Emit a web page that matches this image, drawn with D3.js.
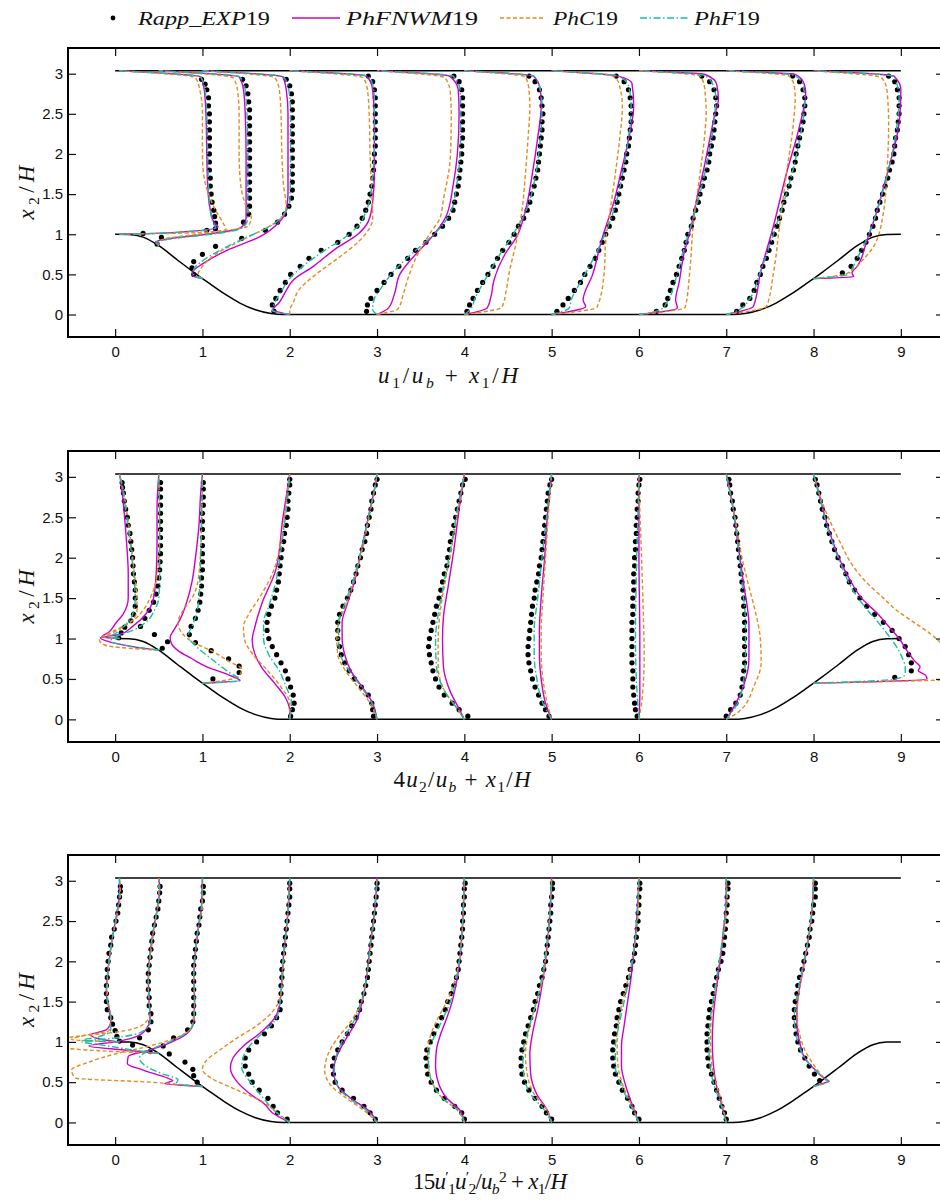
<!DOCTYPE html>
<html>
<head>
<meta charset="utf-8">
<script src="https://cdn.jsdelivr.net/npm/d3@7"></script>
<style>
body { margin: 0; background: #fff; }
svg { display: block; }
.tick text { font-family: "Liberation Sans", Arial, sans-serif; font-size: 15px; fill: #111; }
.tick line { stroke: #111; stroke-width: 1.2; }
.math { font-family: "Liberation Serif", "Times New Roman", serif; fill: #111; white-space: pre; }
</style>
</head>
<body>
<div id="chart"></div>
<script>
// DATA
const stations = [0.05, 0.5, 1, 2, 3, 4, 5, 6, 7, 8];
const channelTop = 3.036;
const hillX = [0, 0.161, 0.321, 0.5, 0.714, 0.893, 1.071, 1.25, 1.429, 1.607, 1.786, 1.929,
    7.071, 7.214, 7.393, 7.571, 7.75, 7.929, 8.107, 8.286, 8.5, 8.679, 8.839, 9];
const hillY = [1, 0.998, 0.964, 0.857, 0.679, 0.532, 0.393, 0.259, 0.143, 0.059, 0.012, 0,
    0, 0.012, 0.059, 0.143, 0.259, 0.393, 0.532, 0.679, 0.857, 0.964, 0.998, 1];
const xTicks = [0, 1, 2, 3, 4, 5, 6, 7, 8, 9];
const yTicks = [0, 0.5, 1, 1.5, 2, 2.5, 3];

// experiment heights for each station
const expYa = [1.01,1.07,1.14,1.22,1.3,1.4,1.5,1.6,1.7,1.8,1.9,2.0,2.1,2.2,2.3,2.4,2.5,2.6,2.7,2.8,2.87,2.93];
const expYb = [0.88,0.96,1.05,1.15,1.25,1.35,1.45,1.55,1.65,1.75,1.85,1.95,2.05,2.15,2.25,2.35,2.45,2.55,2.65,2.75,2.85,2.93];
const expYc = [0.5,0.58,0.66,0.75,0.85,0.95,1.05,1.15,1.25,1.35,1.45,1.55,1.65,1.75,1.85,1.95,2.05,2.15,2.25,2.35,2.45,2.55,2.65,2.75,2.85,2.93];
const expYf = [0.04,0.12,0.2,0.3,0.4,0.5,0.6,0.7,0.8,0.9,1.0,1.1,1.2,1.3,1.4,1.5,1.6,1.7,1.8,1.9,2.0,2.1,2.2,2.3,2.4,2.5,2.6,2.7,2.8,2.9,2.97];
const expYg = [0.52,0.6,0.7,0.8,0.9,1.0,1.1,1.2,1.3,1.4,1.5,1.6,1.7,1.8,1.9,2.0,2.1,2.2,2.3,2.4,2.5,2.6,2.7,2.8,2.9,2.97];
const expY = [expYa, expYb, expYc, expYf, expYf, expYf, expYf, expYf, expYf, expYg];

// panel 1: u1/ub
const u1Exp = [
    [0.27,1.1,1.1,1.09,1.08,1.06,1.05,1.04,1.04,1.03,1.03,1.03,1.03,1.03,1.03,1.03,1.03,1.02,1.02,1.0,0.98,0.94],
    [-0.02,0.03,0.55,0.97,1.03,1.04,1.04,1.04,1.04,1.04,1.04,1.04,1.04,1.04,1.04,1.04,1.04,1.04,1.03,1.02,1.0,0.96],
    [-0.1,-0.12,-0.1,0.0,0.15,0.45,0.72,0.86,0.94,0.99,1.02,1.03,1.03,1.03,1.03,1.03,1.03,1.03,1.03,1.03,1.03,1.03,1.03,1.02,1.0,0.96],
    [-0.18,-0.2,-0.16,-0.11,-0.05,0.01,0.12,0.22,0.36,0.55,0.68,0.77,0.83,0.87,0.9,0.92,0.94,0.95,0.96,0.97,0.97,0.98,0.98,0.98,0.98,0.98,0.98,0.98,0.97,0.95,0.9],
    [-0.12,-0.11,-0.07,0.0,0.08,0.16,0.25,0.35,0.44,0.56,0.66,0.75,0.82,0.87,0.89,0.91,0.93,0.94,0.95,0.96,0.97,0.97,0.98,0.98,0.98,0.98,0.98,0.98,0.97,0.94,0.88],
    [0.03,0.06,0.1,0.15,0.21,0.27,0.33,0.38,0.44,0.51,0.57,0.62,0.68,0.72,0.75,0.77,0.8,0.82,0.84,0.85,0.86,0.87,0.88,0.89,0.89,0.9,0.89,0.88,0.86,0.81,0.74],
    [0.06,0.13,0.19,0.26,0.33,0.38,0.44,0.5,0.54,0.58,0.62,0.66,0.7,0.73,0.75,0.77,0.79,0.81,0.83,0.85,0.86,0.88,0.89,0.9,0.91,0.91,0.91,0.9,0.88,0.83,0.74],
    [0.2,0.3,0.33,0.36,0.39,0.43,0.46,0.49,0.52,0.54,0.56,0.6,0.62,0.65,0.68,0.7,0.73,0.75,0.78,0.8,0.81,0.83,0.85,0.86,0.87,0.88,0.89,0.88,0.86,0.81,0.72],
    [0.12,0.19,0.27,0.32,0.35,0.39,0.42,0.46,0.49,0.52,0.55,0.58,0.61,0.64,0.66,0.69,0.72,0.74,0.77,0.79,0.8,0.82,0.84,0.86,0.88,0.89,0.9,0.9,0.88,0.84,0.76],
    [0.33,0.43,0.5,0.55,0.6,0.64,0.68,0.71,0.73,0.76,0.79,0.82,0.85,0.87,0.9,0.92,0.93,0.94,0.96,0.97,0.98,0.98,0.98,0.96,0.93,0.86]
];
const u1NWM = [
    [[1.0,0],[1.02,0.6],[1.09,1.13],[1.15,1.08],[1.3,1.04],[1.6,1.01],[2.0,1.0],[2.5,0.99],[2.8,0.97],[2.96,0.93],[3.036,0]],
    [[0.857,0],[0.9,-0.04],[0.95,0.15],[1.0,0.55],[1.05,0.85],[1.1,0.96],[1.2,1.0],[1.5,1.0],[2.0,1.0],[2.5,0.99],[2.8,0.97],[2.96,0.92],[3.036,0]],
    [[0.447,0],[0.49,-0.12],[0.55,-0.1],[0.63,0.0],[0.8,0.28],[0.97,0.66],[1.14,0.87],[1.3,0.96],[1.5,0.98],[2.0,0.98],[2.5,0.98],[2.8,0.96],[2.96,0.92],[3.036,0]],
    [[0,0],[0.06,-0.19],[0.15,-0.12],[0.3,-0.04],[0.43,0.04],[0.6,0.27],[0.83,0.54],[1.0,0.78],[1.16,0.9],[1.4,0.95],[1.8,0.97],[2.4,0.97],[2.8,0.95],[2.97,0.88],[3.036,0]],
    [[0,0],[0.08,0.13],[0.26,0.2],[0.5,0.26],[0.77,0.46],[0.93,0.6],[1.22,0.79],[1.6,0.87],[2.0,0.92],[2.5,0.94],[2.8,0.93],[2.97,0.83],[3.036,0]],
    [[0,0],[0.08,0.26],[0.2,0.3],[0.43,0.34],[0.76,0.47],[0.97,0.6],[1.3,0.7],[1.76,0.78],[2.2,0.84],[2.59,0.88],[2.8,0.87],[2.97,0.79],[3.036,0]],
    [[0,0],[0.1,0.39],[0.18,0.36],[0.5,0.47],[0.92,0.57],[1.43,0.72],[1.8,0.8],[2.18,0.88],[2.6,0.94],[2.88,0.92],[2.97,0.76],[3.036,0]],
    [[0,0],[0.08,0.44],[0.18,0.42],[0.4,0.46],[0.73,0.51],[1.1,0.6],[1.43,0.66],[1.8,0.74],[2.18,0.81],[2.5,0.87],[2.68,0.91],[2.87,0.89],[2.99,0.76],[3.036,0]],
    [[0,0],[0.1,0.31],[0.51,0.39],[1.1,0.54],[1.76,0.69],[2.35,0.84],[2.76,0.91],[2.88,0.89],[2.99,0.79],[3.036,0]],
    [[0.447,0],[0.47,0.46],[0.52,0.44],[0.6,0.5],[0.92,0.61],[1.2,0.7],[1.58,0.8],[1.9,0.88],[2.25,0.96],[2.5,0.99],[2.8,1.0],[2.97,0.92],[3.036,0]]
];
const u1C = [
    [[1.0,0],[1.02,0.9],[1.06,1.22],[1.15,1.18],[1.3,1.1],[1.5,1.02],[1.7,0.97],[2.0,0.95],[2.5,0.95],[2.8,0.92],[2.95,0.87],[3.036,0]],
    [[0.857,0],[0.9,-0.01],[0.95,0.1],[1.0,0.45],[1.05,0.8],[1.1,1.02],[1.2,1.06],[1.35,1.0],[1.6,0.94],[2.0,0.92],[2.5,0.92],[2.8,0.9],[2.95,0.85],[3.036,0]],
    [[0.447,0],[0.5,-0.05],[0.6,0.0],[0.75,0.15],[0.9,0.4],[1.05,0.68],[1.2,0.9],[1.35,0.96],[1.6,0.93],[2.0,0.91],[2.5,0.9],[2.8,0.88],[2.95,0.83],[3.036,0]],
    [[0,0],[0.05,0.0],[0.15,0.04],[0.3,0.1],[0.5,0.3],[0.7,0.55],[0.9,0.78],[1.05,0.9],[1.2,0.95],[1.5,0.94],[2.0,0.92],[2.5,0.91],[2.8,0.89],[2.95,0.84],[3.036,0]],
    [[0,0],[0.07,0.24],[0.25,0.3],[0.47,0.36],[0.76,0.47],[1.0,0.6],[1.2,0.72],[1.43,0.76],[1.97,0.84],[2.5,0.85],[2.76,0.84],[2.95,0.78],[3.036,0]],
    [[0,0],[0.09,0.43],[0.3,0.48],[0.5,0.51],[0.93,0.6],[1.3,0.66],[1.76,0.7],[2.2,0.73],[2.59,0.75],[2.8,0.74],[2.96,0.7],[3.036,0]],
    [[0,0],[0.09,0.52],[0.5,0.6],[0.92,0.62],[1.3,0.67],[1.76,0.73],[2.2,0.78],[2.59,0.81],[2.88,0.77],[2.97,0.7],[3.036,0]],
    [[0,0],[0.09,0.53],[0.51,0.58],[1.1,0.62],[1.76,0.7],[2.2,0.75],[2.51,0.77],[2.84,0.75],[2.97,0.7],[3.036,0]],
    [[0,0],[0.1,0.46],[0.51,0.54],[1.1,0.61],[1.76,0.69],[2.39,0.77],[2.7,0.79],[2.84,0.78],[2.97,0.72],[3.036,0]],
    [[0.447,0],[0.5,0.35],[0.554,0.44],[0.7,0.58],[0.85,0.69],[1.27,0.8],[1.76,0.84],[2.39,0.86],[2.8,0.84],[2.95,0.78],[3.036,0]]
];
const u1F = [
    [[1.0,0],[1.02,0.65],[1.08,1.1],[1.15,1.07],[1.3,1.04],[1.6,1.02],[2.0,1.01],[2.5,1.0],[2.8,0.98],[2.96,0.93],[3.036,0]],
    [[0.857,0],[0.9,-0.03],[0.95,0.2],[1.0,0.6],[1.05,0.88],[1.1,0.98],[1.2,1.02],[1.5,1.02],[2.0,1.02],[2.5,1.01],[2.8,0.99],[2.96,0.93],[3.036,0]],
    [[0.447,0],[0.49,-0.1],[0.56,-0.1],[0.65,-0.02],[0.8,0.2],[0.95,0.48],[1.1,0.78],[1.25,0.93],[1.4,1.0],[2.0,1.01],[2.5,1.01],[2.8,0.99],[2.96,0.93],[3.036,0]],
    [[0,0],[0.05,-0.2],[0.15,-0.17],[0.3,-0.09],[0.45,0.0],[0.6,0.15],[0.8,0.4],[0.95,0.62],[1.1,0.78],[1.3,0.88],[1.6,0.94],[2.2,0.97],[2.7,0.97],[2.9,0.94],[2.97,0.89],[3.036,0]],
    [[0,0],[0.06,-0.05],[0.2,-0.03],[0.35,0.06],[0.5,0.16],[0.7,0.34],[0.9,0.55],[1.1,0.74],[1.3,0.85],[1.6,0.91],[2.0,0.95],[2.5,0.96],[2.8,0.95],[2.97,0.87],[3.036,0]],
    [[0,0],[0.08,0.08],[0.2,0.12],[0.4,0.22],[0.7,0.38],[1.0,0.56],[1.3,0.71],[1.7,0.81],[2.2,0.87],[2.6,0.89],[2.8,0.87],[2.97,0.8],[3.036,0]],
    [[0,0],[0.08,0.2],[0.2,0.23],[0.4,0.33],[0.7,0.48],[1.0,0.61],[1.4,0.74],[1.8,0.82],[2.2,0.88],[2.6,0.91],[2.85,0.88],[2.97,0.76],[3.036,0]],
    [[0,0],[0.06,0.25],[0.15,0.32],[0.4,0.41],[0.8,0.51],[1.2,0.62],[1.6,0.72],[2.0,0.8],[2.4,0.86],[2.7,0.88],[2.88,0.84],[2.98,0.74],[3.036,0]],
    [[0,0],[0.06,0.15],[0.2,0.27],[0.5,0.38],[1.1,0.57],[1.7,0.74],[2.3,0.86],[2.65,0.9],[2.85,0.88],[2.98,0.78],[3.036,0]],
    [[0.447,0],[0.5,0.4],[0.55,0.43],[0.7,0.5],[0.92,0.6],[1.2,0.7],[1.6,0.81],[2.0,0.9],[2.4,0.96],[2.7,0.98],[2.85,0.96],[2.97,0.9],[3.036,0]]
];

// panel 2: 4 u2/ub
const u2Exp = [
    [-0.01,0.02,0.06,0.13,0.16,0.18,0.18,0.18,0.17,0.16,0.155,0.15,0.14,0.13,0.12,0.1,0.09,0.07,0.055,0.045,0.035,0.03],
    [0.04,0.1,-0.05,-0.21,-0.16,-0.11,-0.06,-0.03,-0.01,0.0,0.01,0.015,0.02,0.02,0.02,0.02,0.02,0.02,0.02,0.02,0.02,0.02],
    [0.12,0.42,0.42,0.3,0.1,-0.08,-0.15,-0.13,-0.08,-0.05,-0.03,-0.02,-0.01,-0.01,0.0,0.0,0.0,0.0,0.0,0.0,0.0,0.0,0.01,0.01,0.01,0.01],
    [0.01,0.03,0.05,0.04,0.01,-0.02,-0.05,-0.1,-0.15,-0.2,-0.24,-0.26,-0.26,-0.24,-0.21,-0.17,-0.15,-0.13,-0.12,-0.11,-0.1,-0.09,-0.07,-0.06,-0.04,-0.03,-0.02,-0.02,-0.01,0.0,0.0],
    [-0.04,-0.05,-0.06,-0.1,-0.18,-0.26,-0.32,-0.37,-0.41,-0.43,-0.45,-0.45,-0.45,-0.43,-0.39,-0.34,-0.3,-0.27,-0.24,-0.22,-0.19,-0.17,-0.14,-0.12,-0.11,-0.09,-0.07,-0.06,-0.04,-0.02,0.0],
    [0.04,-0.06,-0.14,-0.23,-0.29,-0.33,-0.36,-0.38,-0.4,-0.41,-0.4,-0.38,-0.36,-0.34,-0.32,-0.29,-0.27,-0.25,-0.23,-0.2,-0.19,-0.17,-0.16,-0.14,-0.12,-0.1,-0.08,-0.06,-0.04,-0.02,0.01],
    [-0.03,-0.07,-0.11,-0.15,-0.19,-0.22,-0.24,-0.26,-0.27,-0.27,-0.26,-0.25,-0.24,-0.23,-0.22,-0.2,-0.19,-0.17,-0.15,-0.14,-0.12,-0.11,-0.1,-0.09,-0.08,-0.07,-0.06,-0.05,-0.04,-0.02,0.0],
    [-0.02,-0.04,-0.05,-0.06,-0.07,-0.07,-0.07,-0.08,-0.08,-0.08,-0.08,-0.08,-0.08,-0.07,-0.07,-0.07,-0.06,-0.06,-0.06,-0.05,-0.05,-0.04,-0.04,-0.03,-0.03,-0.02,-0.02,-0.01,-0.01,0.0,0.01],
    [0.0,0.05,0.11,0.16,0.18,0.19,0.2,0.21,0.21,0.21,0.21,0.21,0.21,0.21,0.2,0.2,0.19,0.18,0.17,0.16,0.15,0.14,0.13,0.12,0.11,0.1,0.08,0.07,0.05,0.04,0.03],
    [0.93,1.12,1.12,1.09,1.05,0.98,0.9,0.8,0.7,0.61,0.53,0.47,0.41,0.37,0.33,0.28,0.24,0.21,0.18,0.15,0.13,0.1,0.08,0.06,0.04,0.02]
];
const u2NWM = [
    [[1.0,0],[1.02,-0.2],[1.08,-0.12],[1.18,-0.05],[1.3,0.04],[1.5,0.1],[1.8,0.1],[2.2,0.08],[2.6,0.05],[2.9,0.02],[3.036,0]],
    [[0.857,0],[0.9,-0.3],[0.97,-0.6],[1.01,-0.67],[1.05,-0.45],[1.15,-0.3],[1.3,-0.15],[1.5,-0.06],[1.8,-0.03],[2.2,-0.02],[2.6,-0.02],[3.036,0]],
    [[0.447,0],[0.48,0.43],[0.55,0.3],[0.65,0.05],[0.75,-0.12],[0.85,-0.28],[0.95,-0.36],[1.02,-0.37],[1.1,-0.33],[1.25,-0.25],[1.45,-0.18],[1.7,-0.12],[2.0,-0.08],[2.4,-0.04],[2.8,-0.02],[3.036,0]],
    [[0,0],[0.1,0.0],[0.27,-0.05],[0.43,-0.16],[0.64,-0.32],[0.81,-0.4],[0.98,-0.43],[1.14,-0.4],[1.43,-0.32],[1.85,-0.16],[2.48,-0.08],[3.036,0]],
    [[0,0],[0.2,-0.05],[0.4,-0.17],[0.6,-0.3],[0.8,-0.37],[1.0,-0.4],[1.2,-0.4],[1.4,-0.35],[1.7,-0.26],[2.1,-0.18],[2.5,-0.1],[2.9,-0.02],[3.036,0]],
    [[0,0],[0.13,-0.06],[0.34,-0.16],[0.66,-0.24],[1.0,-0.25],[1.26,-0.24],[1.68,-0.18],[2.1,-0.12],[2.6,-0.06],[3.036,0]],
    [[0,0],[0.2,-0.07],[0.5,-0.12],[0.8,-0.14],[1.1,-0.14],[1.5,-0.12],[2.0,-0.08],[2.5,-0.05],[3.036,0]],
    [[0,0],[0.3,0.01],[1.0,0.01],[2.0,0.0],[3.036,0]],
    [[0,0],[0.18,0.1],[0.42,0.2],[0.75,0.26],[1.17,0.26],[1.67,0.2],[2.2,0.13],[2.6,0.08],[3.036,0]],
    [[0.447,0],[0.5,1.3],[0.55,1.28],[0.6,1.2],[0.65,1.22],[0.72,1.16],[0.85,1.07],[1.0,0.98],[1.15,0.86],[1.3,0.74],[1.5,0.55],[1.7,0.43],[2.0,0.29],[2.4,0.16],[2.8,0.06],[3.036,0]]
];
const u2C = [
    [[1.0,0],[1.02,-0.18],[1.06,-0.1],[1.12,0.0],[1.2,0.12],[1.35,0.2],[1.5,0.2],[1.8,0.17],[2.2,0.13],[2.6,0.08],[2.9,0.03],[3.036,0]],
    [[0.857,0],[0.88,-0.35],[0.92,-0.62],[0.98,-0.68],[1.05,-0.6],[1.13,-0.45],[1.22,-0.3],[1.35,-0.18],[1.5,-0.1],[1.78,-0.02],[2.3,0.01],[3.036,0]],
    [[0.447,0],[0.52,0.4],[0.62,0.45],[0.72,0.3],[0.85,0.1],[0.95,-0.1],[1.05,-0.22],[1.2,-0.28],[1.35,-0.22],[1.5,-0.12],[1.8,-0.04],[2.4,-0.01],[3.036,0]],
    [[0,0],[0.2,0.0],[0.4,-0.1],[0.6,-0.25],[0.8,-0.42],[1.0,-0.52],[1.15,-0.53],[1.3,-0.47],[1.5,-0.35],[1.8,-0.2],[2.2,-0.1],[2.6,-0.05],[2.95,-0.01],[3.036,0]],
    [[0,0],[0.2,-0.08],[0.4,-0.22],[0.6,-0.36],[0.8,-0.45],[1.0,-0.46],[1.2,-0.44],[1.4,-0.36],[1.7,-0.27],[2.1,-0.17],[2.5,-0.09],[2.9,-0.02],[3.036,0]],
    [[0,0],[0.13,-0.08],[0.34,-0.22],[0.66,-0.3],[1.0,-0.3],[1.3,-0.28],[1.7,-0.22],[2.1,-0.15],[2.6,-0.07],[3.036,0]],
    [[0,0],[0.2,-0.05],[0.5,-0.1],[0.8,-0.12],[1.1,-0.12],[1.5,-0.1],[2.0,-0.07],[2.5,-0.04],[3.036,0]],
    [[0,0],[0.3,0.04],[0.8,0.06],[1.3,0.05],[2.0,0.03],[2.6,0.01],[3.036,0]],
    [[0,0],[0.1,0.15],[0.42,0.32],[0.7,0.4],[1.0,0.39],[1.3,0.34],[1.6,0.27],[2.0,0.18],[2.5,0.1],[3.036,0]],
    [[0.447,0],[0.5,1.6],[0.6,1.7],[0.75,1.65],[0.9,1.5],[1.05,1.35],[1.2,1.15],[1.35,0.95],[1.5,0.8],[1.7,0.6],[1.9,0.45],[2.2,0.3],[2.6,0.13],[3.036,0]]
];
const u2F = [
    [[1.0,0],[1.02,-0.12],[1.06,-0.05],[1.15,0.05],[1.3,0.15],[1.5,0.18],[1.8,0.16],[2.2,0.12],[2.6,0.07],[2.9,0.03],[3.036,0]],
    [[0.857,0],[0.9,-0.3],[0.97,-0.55],[1.02,-0.5],[1.1,-0.3],[1.2,-0.15],[1.35,-0.05],[1.5,0.0],[1.8,0.01],[2.4,0.01],[3.036,0]],
    [[0.447,0],[0.48,0.43],[0.6,0.28],[0.75,0.1],[0.88,-0.05],[0.98,-0.14],[1.05,-0.16],[1.15,-0.12],[1.3,-0.07],[1.5,-0.04],[2.0,-0.02],[2.5,-0.01],[3.036,0]],
    [[0,0],[0.2,0.02],[0.4,-0.04],[0.6,-0.12],[0.8,-0.24],[1.0,-0.3],[1.2,-0.3],[1.4,-0.24],[1.7,-0.16],[2.1,-0.1],[2.5,-0.05],[2.9,-0.01],[3.036,0]],
    [[0,0],[0.2,-0.06],[0.4,-0.18],[0.6,-0.32],[0.8,-0.42],[1.0,-0.44],[1.2,-0.44],[1.4,-0.38],[1.7,-0.28],[2.1,-0.18],[2.5,-0.1],[2.9,-0.02],[3.036,0]],
    [[0,0],[0.13,-0.08],[0.34,-0.22],[0.66,-0.32],[1.0,-0.33],[1.3,-0.3],[1.7,-0.23],[2.1,-0.16],[2.6,-0.08],[3.036,0]],
    [[0,0],[0.2,-0.1],[0.5,-0.17],[0.8,-0.2],[1.1,-0.2],[1.5,-0.16],[2.0,-0.11],[2.5,-0.06],[3.036,0]],
    [[0,0],[0.3,-0.02],[1.0,-0.04],[1.8,-0.03],[2.6,-0.01],[3.036,0]],
    [[0,0],[0.18,0.12],[0.42,0.19],[0.8,0.22],[1.2,0.22],[1.6,0.19],[2.1,0.14],[2.6,0.08],[3.036,0]],
    [[0.447,0],[0.5,0.95],[0.56,1.05],[0.65,1.05],[0.75,1.02],[0.9,0.95],[1.05,0.85],[1.2,0.74],[1.4,0.58],[1.6,0.45],[1.9,0.32],[2.3,0.18],[2.7,0.08],[3.036,0]]
];

// panel 3: 15 u1'u2'/ub^2
const uvExp = [
    [0.0,-0.03,-0.05,-0.08,-0.1,-0.14,-0.15,-0.15,-0.15,-0.14,-0.14,-0.13,-0.12,-0.1,-0.09,-0.06,-0.04,-0.02,-0.01,0.0,0.01,0.01],
    [-0.1,-0.3,-0.22,-0.12,-0.09,-0.09,-0.11,-0.11,-0.12,-0.12,-0.12,-0.11,-0.1,-0.09,-0.08,-0.07,-0.05,-0.03,-0.01,0.0,0.01,0.015],
    [-0.06,-0.1,-0.11,-0.2,-0.38,-0.45,-0.33,-0.17,-0.11,-0.1,-0.1,-0.1,-0.1,-0.1,-0.1,-0.1,-0.09,-0.08,-0.07,-0.06,-0.04,-0.03,-0.02,0.0,0.01,0.01],
    [-0.03,-0.14,-0.19,-0.25,-0.35,-0.43,-0.47,-0.51,-0.51,-0.47,-0.38,-0.29,-0.21,-0.15,-0.11,-0.11,-0.1,-0.1,-0.09,-0.09,-0.08,-0.07,-0.06,-0.05,-0.04,-0.03,-0.02,-0.01,0.0,0.0,0.0],
    [-0.02,-0.08,-0.15,-0.27,-0.4,-0.48,-0.5,-0.51,-0.49,-0.45,-0.4,-0.34,-0.29,-0.24,-0.2,-0.18,-0.15,-0.13,-0.11,-0.1,-0.09,-0.08,-0.07,-0.06,-0.05,-0.04,-0.03,-0.02,-0.01,0.0,0.0],
    [0.0,-0.03,-0.11,-0.23,-0.32,-0.38,-0.42,-0.43,-0.44,-0.43,-0.39,-0.35,-0.31,-0.26,-0.22,-0.19,-0.15,-0.12,-0.09,-0.07,-0.06,-0.05,-0.04,-0.03,-0.02,-0.02,-0.01,-0.01,0.0,0.0,0.01],
    [0.0,-0.06,-0.11,-0.19,-0.26,-0.31,-0.34,-0.35,-0.35,-0.34,-0.32,-0.3,-0.27,-0.24,-0.21,-0.19,-0.16,-0.14,-0.11,-0.09,-0.07,-0.06,-0.05,-0.04,-0.03,-0.02,-0.01,-0.01,0.0,0.01,0.01],
    [0.0,-0.05,-0.08,-0.13,-0.19,-0.23,-0.27,-0.29,-0.3,-0.3,-0.29,-0.28,-0.26,-0.25,-0.23,-0.21,-0.18,-0.15,-0.12,-0.1,-0.07,-0.05,-0.04,-0.03,-0.02,-0.01,-0.01,0.0,0.0,0.01,0.01],
    [0.0,-0.02,-0.05,-0.08,-0.11,-0.14,-0.17,-0.2,-0.21,-0.22,-0.22,-0.22,-0.21,-0.2,-0.19,-0.17,-0.15,-0.13,-0.11,-0.09,-0.06,-0.04,-0.03,-0.02,-0.01,0.0,0.0,0.01,0.01,0.02,0.02],
    [0.07,0.01,-0.05,-0.1,-0.15,-0.18,-0.2,-0.21,-0.22,-0.22,-0.21,-0.19,-0.18,-0.16,-0.13,-0.11,-0.09,-0.07,-0.05,-0.04,-0.02,-0.01,0.0,0.02,0.02,0.02]
];
const uvNWM = [
    [[1.0,0],[1.03,-0.2],[1.09,-0.33],[1.15,-0.15],[1.25,-0.1],[1.4,-0.12],[1.6,-0.15],[1.8,-0.14],[2.0,-0.12],[2.3,-0.08],[2.6,-0.03],[2.85,0.0],[3.036,0]],
    [[0.857,0],[0.9,-0.4],[0.95,-0.8],[1.0,-0.5],[1.05,-0.3],[1.15,-0.15],[1.3,-0.1],[1.5,-0.11],[1.8,-0.12],[2.1,-0.1],[2.4,-0.06],[2.7,-0.01],[2.9,0.01],[3.036,0]],
    [[0.447,0],[0.48,-0.43],[0.52,-0.34],[0.55,-0.4],[0.65,-0.68],[0.73,-0.86],[0.82,-0.85],[0.9,-0.6],[1.0,-0.35],[1.1,-0.18],[1.25,-0.1],[1.5,-0.09],[1.8,-0.1],[2.1,-0.08],[2.4,-0.05],[2.7,-0.01],[3.036,0]],
    [[0,0],[0.12,-0.2],[0.22,-0.28],[0.35,-0.45],[0.5,-0.6],[0.68,-0.68],[0.8,-0.65],[0.95,-0.53],[1.1,-0.35],[1.3,-0.17],[1.5,-0.11],[1.8,-0.09],[2.2,-0.06],[2.6,-0.02],[3.036,0]],
    [[0,0],[0.15,-0.1],[0.3,-0.3],[0.45,-0.45],[0.65,-0.5],[0.85,-0.45],[1.05,-0.35],[1.25,-0.24],[1.5,-0.17],[1.8,-0.12],[2.2,-0.08],[2.6,-0.03],[3.036,0]],
    [[0,0],[0.15,-0.05],[0.3,-0.2],[0.5,-0.3],[0.7,-0.33],[0.9,-0.32],[1.1,-0.27],[1.3,-0.2],[1.5,-0.14],[1.8,-0.08],[2.3,-0.03],[2.7,-0.01],[3.036,0]],
    [[0,0],[0.15,-0.05],[0.35,-0.17],[0.6,-0.24],[0.85,-0.25],[1.1,-0.22],[1.4,-0.16],[1.7,-0.11],[2.1,-0.06],[2.6,-0.02],[3.036,0]],
    [[0,0],[0.2,-0.07],[0.45,-0.15],[0.7,-0.2],[0.95,-0.2],[1.2,-0.17],[1.5,-0.13],[1.8,-0.09],[2.2,-0.05],[2.6,-0.02],[3.036,0]],
    [[0,0],[0.25,-0.06],[0.5,-0.12],[0.75,-0.15],[1.0,-0.16],[1.3,-0.15],[1.6,-0.12],[2.0,-0.07],[2.4,-0.03],[2.8,0.0],[3.036,0]],
    [[0.447,0],[0.47,0.05],[0.51,0.18],[0.55,0.12],[0.65,0.02],[0.8,-0.1],[1.0,-0.16],[1.2,-0.19],[1.4,-0.19],[1.6,-0.17],[1.9,-0.12],[2.2,-0.07],[2.6,-0.02],[3.036,0]]
];
const uvC = [
    [[1.0,0],[1.03,-0.55],[1.08,-0.4],[1.14,-0.12],[1.3,-0.1],[1.6,-0.14],[1.9,-0.13],[2.3,-0.08],[2.6,-0.02],[2.85,0.01],[3.036,0]],
    [[0.857,0],[0.88,-0.5],[0.93,-1.1],[1.0,-1.2],[1.06,-1.0],[1.12,-0.5],[1.2,-0.2],[1.35,-0.1],[1.6,-0.12],[1.9,-0.11],[2.2,-0.08],[2.5,-0.04],[2.8,0.0],[3.036,0]],
    [[0.447,0],[0.5,-0.6],[0.55,-1.45],[0.65,-1.5],[0.75,-1.3],[0.85,-1.0],[0.95,-0.6],[1.05,-0.3],[1.2,-0.12],[1.5,-0.09],[1.8,-0.1],[2.4,-0.05],[2.7,0.0],[3.036,0]],
    [[0,0],[0.1,-0.12],[0.25,-0.3],[0.4,-0.6],[0.55,-0.9],[0.66,-1.0],[0.75,-0.97],[0.9,-0.8],[1.05,-0.6],[1.2,-0.38],[1.4,-0.18],[1.6,-0.1],[2.0,-0.07],[2.5,-0.03],[3.036,0]],
    [[0,0],[0.15,-0.15],[0.3,-0.35],[0.45,-0.52],[0.65,-0.6],[0.85,-0.56],[1.05,-0.45],[1.25,-0.3],[1.5,-0.18],[1.8,-0.12],[2.2,-0.07],[2.6,-0.03],[3.036,0]],
    [[0,0],[0.15,-0.08],[0.3,-0.25],[0.5,-0.37],[0.7,-0.41],[0.9,-0.42],[1.1,-0.38],[1.3,-0.3],[1.5,-0.2],[1.8,-0.1],[2.3,-0.03],[2.7,-0.01],[3.036,0]],
    [[0,0],[0.15,-0.05],[0.35,-0.2],[0.6,-0.28],[0.85,-0.3],[1.1,-0.27],[1.4,-0.2],[1.7,-0.12],[2.1,-0.06],[2.6,-0.02],[3.036,0]],
    [[0,0],[0.2,-0.08],[0.45,-0.18],[0.7,-0.24],[0.95,-0.25],[1.2,-0.24],[1.5,-0.19],[1.8,-0.12],[2.2,-0.05],[2.6,-0.01],[3.036,0]],
    [[0,0],[0.25,-0.05],[0.5,-0.12],[0.75,-0.17],[1.0,-0.18],[1.3,-0.17],[1.6,-0.13],[2.0,-0.08],[2.4,-0.02],[2.8,0.01],[3.036,0]],
    [[0.447,0],[0.5,0.15],[0.6,0.08],[0.75,-0.02],[0.9,-0.1],[1.1,-0.16],[1.3,-0.19],[1.5,-0.18],[1.8,-0.14],[2.1,-0.09],[2.5,-0.03],[3.036,0]]
];
const uvF = [
    [[1.0,0],[1.02,-0.43],[1.06,-0.25],[1.15,-0.1],[1.3,-0.1],[1.6,-0.15],[1.9,-0.13],[2.3,-0.08],[2.6,-0.03],[2.85,0.0],[3.036,0]],
    [[0.857,0],[0.9,-0.3],[0.97,-0.7],[1.0,-0.88],[1.05,-0.5],[1.12,-0.2],[1.25,-0.1],[1.5,-0.11],[1.8,-0.12],[2.1,-0.1],[2.4,-0.06],[2.7,-0.01],[2.9,0.01],[3.036,0]],
    [[0.447,0],[0.48,-0.3],[0.53,-0.28],[0.6,-0.45],[0.7,-0.65],[0.8,-0.72],[0.9,-0.6],[1.0,-0.38],[1.1,-0.2],[1.25,-0.1],[1.5,-0.09],[1.8,-0.1],[2.4,-0.05],[2.7,-0.01],[3.036,0]],
    [[0,0],[0.12,-0.15],[0.3,-0.3],[0.5,-0.45],[0.68,-0.55],[0.85,-0.52],[1.0,-0.42],[1.15,-0.27],[1.3,-0.15],[1.6,-0.1],[2.0,-0.08],[2.5,-0.03],[3.036,0]],
    [[0,0],[0.15,-0.12],[0.3,-0.32],[0.45,-0.45],[0.65,-0.49],[0.85,-0.46],[1.05,-0.38],[1.25,-0.27],[1.5,-0.18],[1.8,-0.12],[2.2,-0.08],[2.6,-0.03],[3.036,0]],
    [[0,0],[0.15,-0.07],[0.3,-0.25],[0.5,-0.37],[0.7,-0.41],[0.9,-0.4],[1.1,-0.33],[1.3,-0.24],[1.5,-0.16],[1.8,-0.09],[2.3,-0.03],[2.7,-0.01],[3.036,0]],
    [[0,0],[0.15,-0.08],[0.35,-0.24],[0.6,-0.32],[0.85,-0.33],[1.1,-0.28],[1.4,-0.2],[1.7,-0.13],[2.1,-0.07],[2.6,-0.02],[3.036,0]],
    [[0,0],[0.2,-0.09],[0.45,-0.2],[0.7,-0.27],[0.95,-0.27],[1.2,-0.23],[1.5,-0.17],[1.8,-0.11],[2.2,-0.05],[2.6,-0.02],[3.036,0]],
    [[0,0],[0.25,-0.07],[0.5,-0.15],[0.75,-0.19],[1.0,-0.2],[1.3,-0.18],[1.6,-0.14],[2.0,-0.08],[2.4,-0.03],[2.8,0.0],[3.036,0]],
    [[0.447,0],[0.47,0.08],[0.51,0.17],[0.57,0.1],[0.7,-0.03],[0.9,-0.15],[1.1,-0.2],[1.3,-0.22],[1.5,-0.2],[1.8,-0.15],[2.1,-0.09],[2.5,-0.03],[3.036,0]]
];

// SETUP
const width = 940, height = 1200;
const series = [
    {key: "nwm", name: "PhFNWM", color: "#cc00cc", dash: null},
    {key: "c", name: "PhC", color: "#e8891d", dash: "4,2.5"},
    {key: "f", name: "PhF", color: "#17bfa5", dash: "7,2.5,1.5,2.5"}
];

const panels = [
    {top: 48, bottom: 337, exp: u1Exp, nwm: u1NWM, c: u1C, f: u1F, titleX: 448, titleY: 383, titleLen: 140,
        title: [["u","i"],["1","rsub"],["/","r"],["u","i"],["b","isub"],[" + ","r"],["x","i"],["1","rsub"],["/","r"],["H","i"]]},
    {top: 451, bottom: 742, exp: u2Exp, nwm: u2NWM, c: u2C, f: u2F, titleX: 462, titleY: 787, titleLen: 137,
        title: [["4","r"],["u","i"],["2","rsub"],["/","r"],["u","i"],["b","isub"],[" + ","r"],["x","i"],["1","rsub"],["/","r"],["H","i"]]},
    {top: 855, bottom: 1145, exp: uvExp, nwm: uvNWM, c: uvC, f: uvF, titleX: 490, titleY: 1189, titleLen: 154,
        title: [["15","r"],["u","i"],["\u2032","rsup"],["1","rsub"],["u","i"],["\u2032","rsup"],["2","rsub"],["/","r"],["u","i"],["b","isub"],["2","rsup"],[" + ","r"],["x","i"],["1","rsub"],["/","r"],["H","i"]]}
];

const svg = d3.select("#chart").append("svg")
    .attr("width", width)
    .attr("height", height);

const xScale = d3.scaleLinear()
    .domain([-0.54, 9.5])
    .range([68, 944.5]);

function mathText(sel, parts, size) {
    let shift = 0;
    parts.forEach(([t, kind]) => {
        const small = kind.includes("sub") || kind.includes("sup");
        const target = kind.includes("sub") ? size * 0.2 : (kind.includes("sup") ? -size * 0.32 : 0);
        sel.append("tspan")
            .text(t)
            .attr("dy", target - shift)
            .style("font-style", kind.startsWith("i") ? "italic" : "normal")
            .style("font-size", (small ? size * 0.68 : size) + "px");
        shift = target;
    });
}

panels.forEach((p, i) => {
    const yScale = d3.scaleLinear()
        .domain([-0.28, 3.32])
        .range([p.bottom, p.top]);

    svg.append("clipPath")
        .attr("id", `clip${i}`)
        .append("rect")
        .attr("x", 68).attr("y", p.top)
        .attr("width", 876.5).attr("height", p.bottom - p.top);

    const plot = svg.append("g").attr("clip-path", `url(#clip${i})`);

    // hill geometry and top wall
    plot.append("path")
        .datum(d3.zip(hillX, hillY))
        .attr("fill", "none")
        .attr("stroke", "#000")
        .attr("stroke-width", 1.5)
        .attr("d", d3.line().x(d => xScale(d[0])).y(d => yScale(d[1])).curve(d3.curveMonotoneX));
    plot.append("path")
        .datum([[0, channelTop], [9, channelTop]])
        .attr("fill", "none")
        .attr("stroke", "#000")
        .attr("stroke-width", 1.5)
        .attr("d", d3.line().x(d => xScale(d[0])).y(d => yScale(d[1])));

    // experiment
    stations.forEach((s, k) => {
        const pts = expY[k].map((yy, j) => [yy, p.exp[k][j]]).filter(d => d[1] !== undefined);
        plot.append("g")
            .selectAll("circle")
            .data(pts)
            .join("circle")
            .attr("cx", d => xScale(s + d[1]))
            .attr("cy", d => yScale(d[0]))
            .attr("r", 2.6)
            .attr("fill", "#000");
    });

    // models
    series.forEach(se => {
        p[se.key].forEach((prof, k) => {
            const line = d3.line()
                .x(d => xScale(stations[k] + d[1]))
                .y(d => yScale(d[0]))
                .curve(d3.curveMonotoneY);
            plot.append("path")
                .datum(prof)
                .attr("fill", "none")
                .attr("stroke", se.color)
                .attr("stroke-width", 1.4)
                .attr("stroke-dasharray", se.dash)
                .attr("d", line);
        });
    });

    // axes
    const axes = svg.append("g");
    axes.append("g")
        .attr("transform", `translate(0,${p.bottom})`)
        .call(d3.axisBottom(xScale).tickValues(xTicks).tickFormat(d3.format("d")).tickSizeInner(-8).tickSizeOuter(0).tickPadding(9))
        .call(g => g.select(".domain").remove());
    axes.append("g")
        .attr("transform", `translate(0,${p.top})`)
        .call(d3.axisTop(xScale).tickValues(xTicks).tickFormat("").tickSizeInner(-8).tickSizeOuter(0))
        .call(g => g.select(".domain").remove());
    axes.append("g")
        .attr("transform", "translate(68,0)")
        .call(d3.axisLeft(yScale).tickValues(yTicks).tickFormat(d3.format("")).tickSizeInner(-8).tickSizeOuter(0).tickPadding(5))
        .call(g => g.select(".domain").remove());
    axes.append("g")
        .attr("transform", "translate(944,0)")
        .call(d3.axisRight(yScale).tickValues(yTicks).tickFormat("").tickSizeInner(-8).tickSizeOuter(0))
        .call(g => g.select(".domain").remove());

    svg.append("rect")
        .attr("x", 68).attr("y", p.top)
        .attr("width", 876).attr("height", p.bottom - p.top)
        .attr("fill", "none")
        .attr("stroke", "#000")
        .attr("stroke-width", 2);

    // titles
    const xt = svg.append("text")
        .attr("class", "math")
        .attr("x", p.titleX)
        .attr("y", p.titleY)
        .attr("text-anchor", "middle")
        .attr("textLength", p.titleLen)
        .attr("lengthAdjust", "spacing");
    mathText(xt, p.title, 23);

    const yt = svg.append("text")
        .attr("class", "math")
        .attr("transform", `translate(34,${(p.top + p.bottom) / 2}) rotate(-90)`)
        .attr("text-anchor", "middle")
        .attr("textLength", 54)
        .attr("lengthAdjust", "spacing");
    mathText(yt, [["x","i"],["2","rsub"],["/","r"],["H","i"]], 23);
});

// LEGEND
const legend = svg.append("g");
legend.append("circle").attr("cx", 113).attr("cy", 18).attr("r", 2.4).attr("fill", "#000");
const legendItems = [
    {x: 138, len: 132, parts: [["Rapp_EXP","i"],["19","r"]]},
    {x: 346, len: 132, parts: [["PhFNWM","i"],["19","r"]], line: [292, 340], s: series[0]},
    {x: 553, len: 65, parts: [["PhC","i"],["19","r"]], line: [500, 545], s: series[1]},
    {x: 694, len: 66, parts: [["PhF","i"],["19","r"]], line: [640, 690], s: series[2]}
];
legendItems.forEach(it => {
    if (it.line) {
        legend.append("line")
            .attr("x1", it.line[0]).attr("x2", it.line[1])
            .attr("y1", 18).attr("y2", 18)
            .attr("stroke", it.s.color)
            .attr("stroke-width", 1.5)
            .attr("stroke-dasharray", it.s.dash);
    }
    const t = legend.append("text")
        .attr("class", "math")
        .attr("x", it.x)
        .attr("y", 25)
        .attr("textLength", it.len)
        .attr("lengthAdjust", "spacingAndGlyphs");
    mathText(t, it.parts, 19);
});
</script>
</body>
</html>
